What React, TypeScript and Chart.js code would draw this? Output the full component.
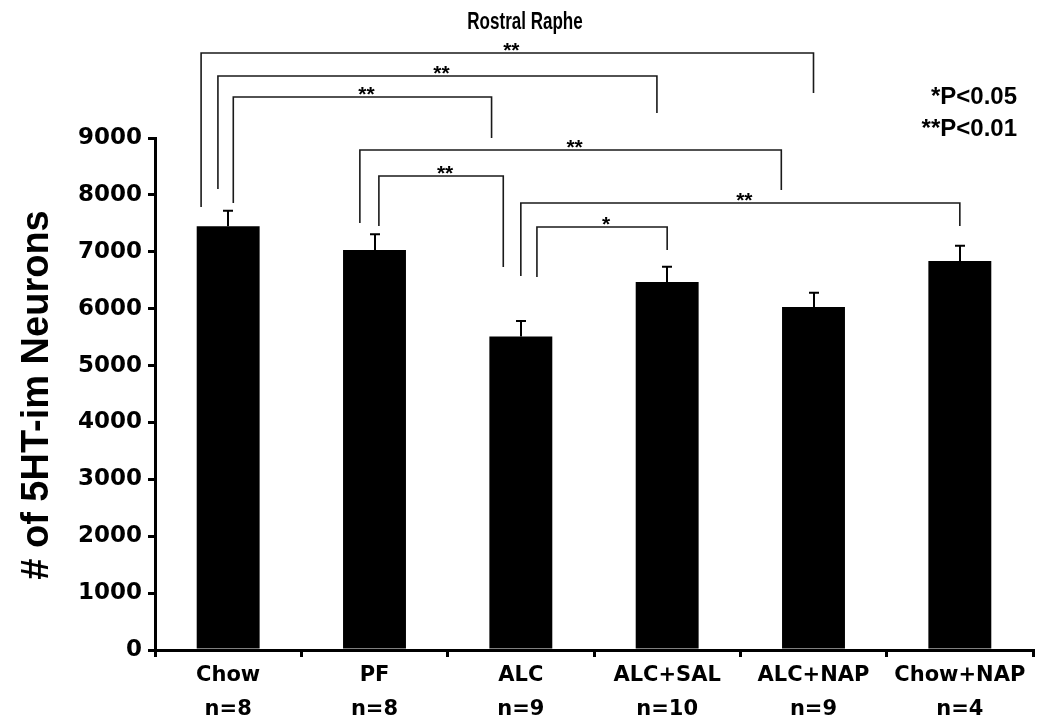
import React, { useEffect, useRef } from "react";
import { Chart, registerables } from "chart.js";

Chart.register(...registerables);

const categories: string[][] = [
  ["Chow", "n=8"],
  ["PF", "n=8"],
  ["ALC", "n=9"],
  ["ALC+SAL", "n=10"],
  ["ALC+NAP", "n=9"],
  ["Chow+NAP", "n=4"],
];
const means: number[] = [7450, 7030, 5510, 6470, 6030, 6840];
const sem: number[] = [270, 280, 275, 265, 250, 265];
const yTicks: number[] = [0, 1000, 2000, 3000, 4000, 5000, 6000, 7000, 8000, 9000];

// significance brackets: [fromIndex, toIndex, barHeight, leftLegEnd, rightLegEnd]
const bracketFrom: number[] = [0, 0, 0, 1, 1, 2, 2];
const bracketTo: number[] = [4, 3, 2, 4, 2, 5, 3];
const bracketTop: number[] = [10494, 10090, 9720, 8789, 8332, 7857, 7435];
const bracketLeftEnd: number[] = [7787, 8103, 7857, 7506, 7453, 6574, 6556];
const bracketRightEnd: number[] = [9791, 9439, 9000, 8086, 6732, 7453, 7031];
const bracketLabels: string[] = ["**", "**", "**", "**", "**", "**", "*"];
// leg offsets in fractions of category width
const legOffsetLeft: number[] = [-0.185, -0.07, 0.035, -0.1, 0.03, 0, 0.11];
const legOffsetRight: number[] = [0, -0.07, -0.2, -0.22, -0.12, 0, 0];

const titleText = "Rostral Raphe";
const yTitle = "# of 5HT-im Neurons";
const legendLines: string[] = ["*P<0.05", "**P<0.01"];

const overlayPlugin = {
  id: "overlay",
  afterDraw(chart: any) {
    const ctx = chart.ctx;
    const xs = chart.scales.x;
    const ys = chart.scales.y;
    const meta = chart.getDatasetMeta(0);
    ctx.save();
    // error bars
    ctx.strokeStyle = "#000";
    ctx.lineWidth = 2;
    meta.data.forEach((bar: any, i: number) => {
      const cx = Math.round(bar.x);
      const top = ys.getPixelForValue(means[i]);
      const et = ys.getPixelForValue(means[i] + sem[i]);
      ctx.beginPath();
      ctx.moveTo(cx, top);
      ctx.lineTo(cx, et);
      ctx.moveTo(cx - 5, et);
      ctx.lineTo(cx + 5, et);
      ctx.stroke();
    });
    // brackets
    const cw = (xs.right - xs.left) / categories.length;
    ctx.strokeStyle = "#1a1a1a";
    ctx.lineWidth = 1.6;
    ctx.fillStyle = "#000";
    ctx.font = "bold 21px 'Liberation Sans', Arial, sans-serif";
    ctx.textAlign = "center";
    ctx.textBaseline = "middle";
    for (let k = 0; k < bracketFrom.length; k++) {
      const x1 = xs.getPixelForValue(bracketFrom[k]) + legOffsetLeft[k] * cw;
      const x2 = xs.getPixelForValue(bracketTo[k]) + legOffsetRight[k] * cw;
      const yt = ys.getPixelForValue(bracketTop[k]);
      const yl = ys.getPixelForValue(bracketLeftEnd[k]);
      const yr = ys.getPixelForValue(bracketRightEnd[k]);
      ctx.beginPath();
      ctx.moveTo(x1, yl);
      ctx.lineTo(x1, yt);
      ctx.lineTo(x2, yt);
      ctx.lineTo(x2, yr);
      ctx.stroke();
      ctx.fillText(bracketLabels[k], (x1 + x2) / 2 + 4, yt - 2);
    }
    // title (condensed)
    ctx.save();
    ctx.translate(525, 23);
    ctx.scale(0.74, 1);
    ctx.font = "bold 23px 'Liberation Sans', Arial, sans-serif";
    ctx.textAlign = "center";
    ctx.fillText(titleText, 0, 0);
    ctx.restore();
    // legend text
    ctx.font = "bold 24px 'Liberation Sans', Arial, sans-serif";
    ctx.textAlign = "right";
    ctx.fillText(legendLines[0], 1017, 97);
    ctx.fillText(legendLines[1], 1017, 129);
    // y title
    ctx.translate(38, 395);
    ctx.rotate(-Math.PI / 2);
    ctx.textAlign = "center";
    ctx.font = "bold 38px 'Liberation Sans', Arial, sans-serif";
    ctx.fillText(yTitle, 0, 0);
    ctx.restore();
  },
};

export default function App() {
  const ref = useRef<HTMLCanvasElement | null>(null);
  useEffect(() => {
    if (!ref.current) return;
    const chart = new Chart(ref.current, {
      type: "bar",
      data: {
        labels: categories,
        datasets: [
          {
            data: means,
            backgroundColor: "#000",
            borderWidth: 0,
            barPercentage: 0.43,
            categoryPercentage: 1,
          },
        ],
      },
      options: {
        animation: false,
        responsive: false,
        layout: { padding: { left: 0, right: 17, top: 138, bottom: 0 } },
        plugins: { legend: { display: false }, title: { display: false }, tooltip: { enabled: false } },
        scales: {
          x: {
            afterFit: (s: any) => {
              s.height = 74;
            },
            grid: { drawOnChartArea: false, drawTicks: true, tickLength: 7, lineWidth: 3, color: "#000", offset: true },
            border: { display: true, color: "#000", width: 3 },
            ticks: {
              color: "#000",
              padding: 2,
              font: { family: "'DejaVu Sans', Verdana, sans-serif", weight: "bold", size: 21, lineHeight: 1.6 },
            },
          },
          y: {
            min: 0,
            max: 9000,
            afterFit: (s: any) => {
              s.width = 155;
            },
            afterBuildTicks: (s: any) => {
              s.ticks = yTicks.map((v) => ({ value: v }));
            },
            grid: { drawOnChartArea: false, drawTicks: true, tickLength: 7, lineWidth: 3, color: "#000" },
            border: { display: true, color: "#000", width: 3 },
            ticks: {
              color: "#000",
              padding: 6,
              callback: (v: any) => String(v),
              font: { family: "'DejaVu Sans', Verdana, sans-serif", weight: "bold", size: 23 },
            },
          },
        },
      },
      plugins: [overlayPlugin],
    });
    return () => chart.destroy();
  }, []);
  return (
    <div style={{ position: "absolute", left: 0, top: 0, width: 1050, height: 724, background: "#fff" }}>
      <canvas ref={ref} width={1050} height={724} />
    </div>
  );
}
